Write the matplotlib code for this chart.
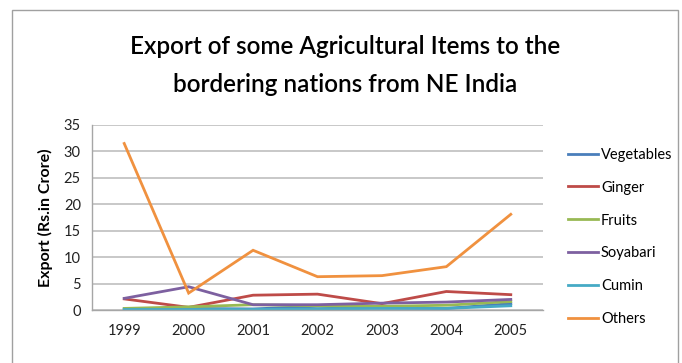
import matplotlib
matplotlib.use("Agg")
import matplotlib.pyplot as plt
from matplotlib.patches import Rectangle

years = ["1999", "2000", "2001", "2002", "2003", "2004", "2005"]
vegetables = [0.2, 0.3, 0.2, 0.7, 0.4, 0.3, 1.2]
ginger = [2.1, 0.5, 2.8, 3.0, 1.2, 3.5, 2.9]
fruits = [0.3, 0.6, 1.0, 0.8, 0.7, 0.9, 1.6]
soyabari = [2.2, 4.4, 1.0, 1.0, 1.3, 1.5, 2.0]
cumin = [0.1, 0.1, 0.1, 0.2, 0.3, 0.3, 0.8]
others = [31.5, 3.2, 11.3, 6.3, 6.5, 8.2, 18.1]

series_names = ["Vegetables", "Ginger", "Fruits", "Soyabari", "Cumin", "Others"]
series_values = [vegetables, ginger, fruits, soyabari, cumin, others]
colors = ["#4A7EBB", "#BE4B48", "#98B954", "#7D60A0", "#46AAC5", "#F0913F"]
yticks = [0, 5, 10, 15, 20, 25, 30, 35]

plt.rcParams['font.family'] = ['Lato', 'DejaVu Sans']

fig = plt.figure(figsize=(6.82, 3.63), dpi=100)
fig.patches.append(Rectangle((12/682, -0.05), (678-12)/682, 1.05 - 10/363,
                             transform=fig.transFigure, fill=False,
                             edgecolor="#A0A0A0", linewidth=1.0))

ax = fig.add_axes([92/682, 1-310/363, (543-92)/682, (310-125)/363])
x = list(range(len(years)))
for name, vals, c in zip(series_names, series_values, colors):
    ax.plot(x, vals, color=c, linewidth=2.0, label=name, solid_joinstyle='miter')

ax.set_xlim(-0.5, len(years)-0.5)
ax.set_ylim(0, 35)
ax.set_yticks(yticks)
ax.set_xticks(x)
ax.set_xticklabels(years)
ax.tick_params(axis='both', length=0, labelsize=10.5, colors="#222222")
ax.tick_params(axis='x', pad=10)
ax.tick_params(axis='y', pad=8)
ax.grid(axis='y', color="#BFBFBF", linewidth=1.2)
ax.set_axisbelow(True)
for s in ["top", "right"]:
    ax.spines[s].set_visible(False)
for s in ["left", "bottom"]:
    ax.spines[s].set_color("#A6A6A6")
    ax.spines[s].set_linewidth(1.0)

ax.set_ylabel("Export (Rs.in Crore)", fontsize=11.5, fontweight='bold', labelpad=8)

fig.text(345/682, 1-47/363, "Export of some Agricultural Items to the",
         ha='center', va='center', fontsize=17.5, fontweight='semibold')
fig.text(345/682, 1-85/363, "bordering nations from NE India",
         ha='center', va='center', fontsize=17.5, fontweight='semibold')

leg = ax.legend(loc='center left', bbox_to_anchor=(555/682, 1-237/363),
                bbox_transform=fig.transFigure, frameon=False, fontsize=10.5,
                handlelength=2.05, handletextpad=0.2, labelspacing=1.3)

fig.savefig("out.png", dpi=100)
